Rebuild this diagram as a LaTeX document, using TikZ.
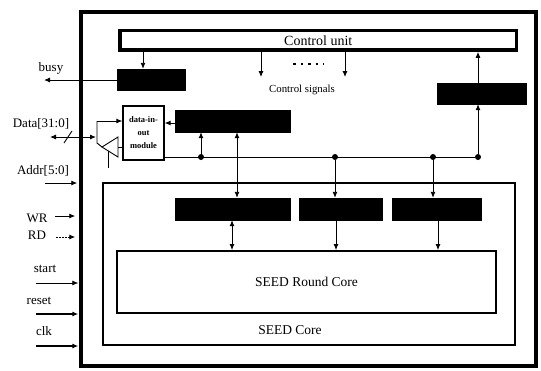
\documentclass[tikz,border=0pt]{standalone}
\usepackage{fontspec}
\setmainfont{Liberation Serif}
\usetikzlibrary{arrows.meta}
\begin{document}
\begin{tikzpicture}[x=1pt,y=-1pt,
 arr/.style={-{Latex[length=6pt,width=5pt]}, line width=0.9pt},
 darr/.style={{Latex[length=6pt,width=5pt]}-{Latex[length=6pt,width=5pt]}, line width=0.9pt},
 blk/.style={fill=black, draw=black, inner sep=0pt, minimum height=21pt},
 frame/.style={draw, inner sep=0pt},
 lbl/.style={font=\fontsize{13}{15}\selectfont, inner sep=0pt},
 dotc/.style={circle, fill, inner sep=0pt, minimum size=6pt},
]
\useasboundingbox (0,0) rectangle (541,370);
% frames
\node[frame, line width=3.5pt, minimum width=455pt, minimum height=354pt] (outer) at (308.5,189) {};
\node[frame, line width=3.6pt, minimum width=396.5pt, minimum height=19.5pt, font=\fontsize{14}{16}\selectfont] (cu) at (318.25,40.25) {Control unit};
\node[frame, line width=1.8pt, minimum width=412pt, minimum height=162pt] (core) at (309,264) {};
\node[frame, line width=1.8pt, minimum width=379pt, minimum height=62pt, font=\fontsize{13.5}{15}\selectfont] (round) at (306.5,282) {SEED Round Core};
\node[lbl, font=\fontsize{13.5}{15}\selectfont] (corel) at (290,330) {SEED Core};
\node[frame, line width=1.2pt, minimum width=41pt, minimum height=54pt, align=center, font=\fontsize{8.5}{13}\selectfont\bfseries] (dmod) at (143.5,133) {data-in-\\out\\module};
% black boxes
\node[blk, minimum width=68pt] (busybox) at (151,79.5) {};
\node[blk, minimum width=89pt] (rightbox) at (481.5,93.5) {};
\node[blk, minimum width=115pt, minimum height=22pt] (bb1) at (232.5,121) {};
\node[blk, minimum width=115pt, minimum height=22pt] (lb1) at (232.5,209) {};
\node[blk, minimum width=83pt, minimum height=22pt] (lb2) at (340.5,209) {};
\node[blk, minimum width=89pt, minimum height=22pt] (lb3) at (436.5,209) {};
% texts
\node[lbl, font=\fontsize{10.8}{12}\selectfont] (csig) at (302,90) {Control signals};
\node[lbl] (busyl) at (51,68) {busy};
\node[lbl] (datal) at (41,124) {Data[31:0]};
\node[lbl] (addrl) at (43,171) {Addr[5:0]};
\node[lbl] (wrl) at (37,218) {WR};
\node[lbl] (rdl) at (37,235) {RD};
\node[lbl] (startl) at (45,269) {start};
\node[lbl] (resetl) at (39,301) {reset};
\node[lbl] (clkl) at (44,331) {clk};
% helper coordinates
\coordinate (x143) at (143,0);
\coordinate (x261) at (261,0);
\coordinate (x345) at (345,0);
\coordinate (x237) at (237,0);
\coordinate (x232) at (232,0);
\coordinate (x336) at (336,0);
\coordinate (x438) at (438,0);
\coordinate (sig1) at (261,77);
\coordinate (sig2) at (345,77);
\coordinate (busyend) at (44,80);
% bus dots
\node[dotc] (d1) at (201,157) {};
\node[dotc] (d2) at (335,157) {};
\node[dotc] (d3) at (433,157) {};
\node[dotc] (d4) at (478,157) {};
% control unit connections
\draw[arr] (x143 |- cu.south) -- (x143 |- busybox.north);
\draw[arr] (busybox.west |- busyend) -- (busyend);
\draw[arr] (x261 |- cu.south) -- (sig1);
\draw[arr] (x345 |- cu.south) -- (sig2);
\draw[line width=2.4pt, dash pattern=on 2.5pt off 5pt] (293,64) -- (324,64);
\draw[arr] (d4 |- rightbox.north) -- (d4 |- cu.south);
\draw[arr] (d4) -- (d4 |- rightbox.south);
% bus
\draw[line width=0.9pt] (dmod.east |- d1) -- (d4);
\draw[arr] (d1) -- (d1 |- bb1.south);
\draw[arr] (bb1.west |- 0,123) -- (dmod.east |- 0,123);
\draw[darr] (x237 |- bb1.south) -- (x237 |- lb1.north);
\draw[arr] (d2) -- (d2 |- lb2.north);
\draw[arr] (d3) -- (d3 |- lb3.north);
\draw[darr] (x232 |- lb1.south) -- (x232 |- round.north);
\draw[arr] (x336 |- lb2.south) -- (x336 |- round.north);
\draw[arr] (x438 |- lb3.south) -- (x438 |- round.north);
% data in/out
\coordinate (dl) at (50,137);
\coordinate (jm) at (96,137);
\coordinate (jt) at (97,121);
\coordinate (jb) at (97,143);
\coordinate (tip) at (102,147);
\coordinate (tb) at (118,147);
\coordinate (en1) at (108,151);
\coordinate (en2) at (108,168);
\draw[darr] (dl) -- (jm);
\draw[line width=0.9pt] (64,143) -- (72,131);
\draw[line width=0.9pt] (jt) -- (jb) -- (tip);
\draw[arr] (jt) -- (jt -| dmod.west);
\draw[line width=0.9pt] (tip) -- (118,137) -- (118,157) -- cycle;
\draw[line width=0.9pt] (tb) -- (tb -| dmod.west);
\draw[line width=0.9pt] (en1) -- (en2);
% inputs
\coordinate (addrs) at (45,183);
\coordinate (wrs) at (55,216);
\coordinate (rds) at (56,237);
\coordinate (starts) at (36,283);
\coordinate (resets) at (36,314);
\coordinate (clks) at (36,346);
\draw[arr] (addrs) -- ([xshift=-2pt]addrs -| outer.west);
\draw[arr] (wrs) -- ([xshift=-4pt]wrs -| outer.west);
\draw[arr, dashed, dash pattern=on 2pt off 1pt] (rds) -- ([xshift=-4pt]rds -| outer.west);
\draw[arr, line width=0.6pt] (starts) -- ([xshift=-1pt]starts -| outer.west);
\draw[arr, line width=1.1pt] (resets) -- ([xshift=-1pt]resets -| outer.west);
\draw[arr, line width=1.1pt] (clks) -- ([xshift=-1pt]clks -| outer.west);
\end{tikzpicture}
\end{document}
